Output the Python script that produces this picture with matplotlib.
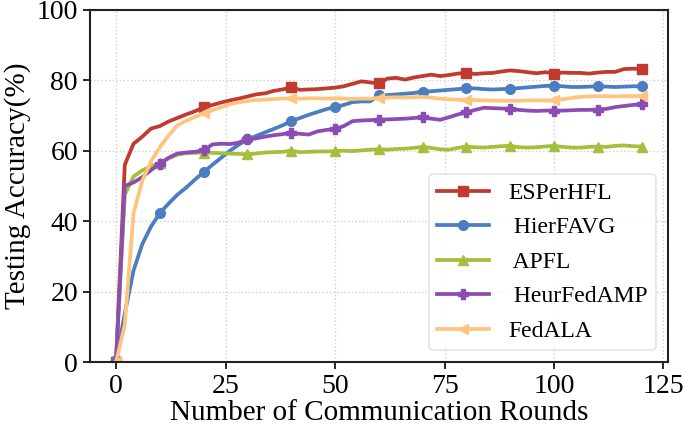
import numpy as np
import matplotlib
matplotlib.use("Agg")
import matplotlib.pyplot as plt

plt.rcParams["font.family"] = ["Liberation Serif", "DejaVu Serif"]

rounds = list(range(0, 121, 2))

esperhfl = [0, 56, 62, 64, 66.3, 67, 68.3, 69.3, 70.3, 71.2,
            72.3, 73, 73.7, 74.3, 74.8, 75.4, 76, 76.3, 77, 77.4,
            78, 77.3, 77.4, 77.5, 77.7, 77.9, 78.3, 79, 79.7, 79.4,
            79.1, 80.5, 80.7, 80.2, 80.8, 81.2, 81.6, 81.2, 81.5, 81.9,
            82.1, 81.8, 82, 82.1, 82.5, 82.8, 82.6, 82.3, 82, 82.3,
            81.9, 82.2, 82.1, 82.1, 81.9, 82.2, 82.4, 82.4, 83.2, 83.3,
            83.2]
hierfavg = [0.5, 13.8, 26, 33.5, 38.5, 42.3, 45, 47.5, 49.5, 51.8,
            53.9, 56, 58, 60, 61.7, 63.2, 64.2, 65.2, 66.2, 67.2,
            68.4, 69.3, 70.2, 71, 71.8, 72.4, 73, 73.8, 74, 74,
            75.7, 75.8, 76, 76.2, 76.4, 76.8, 76.9, 77.1, 77.3, 77.5,
            77.7, 77.7, 77.5, 77.4, 77.5, 77.6, 77.8, 78, 78.2, 78.4,
            78.5, 78.3, 78.1, 78.1, 78.2, 78.3, 78.2, 78.1, 78.2, 78.3,
            78.3]
apfl = [0, 47.5, 52.7, 54.4, 55.6, 56.5, 57.8, 58.9, 59.3, 59.4,
        59.5, 59.4, 59.3, 59.2, 59.1, 59.0, 59.2, 59.5, 59.6, 59.7,
        60.0, 59.6, 59.7, 59.8, 59.8, 59.9, 60, 59.9, 60.1, 60.3,
        60.4, 60.3, 60.5, 60.6, 60.8, 61.1, 60.8, 60.4, 60.3, 60.8,
        61.2, 61, 60.9, 61.1, 61.3, 61.4, 61, 60.9, 61, 61.2,
        61.4, 61.1, 60.9, 60.9, 61.1, 61.2, 61.1, 61.4, 61.5, 61.3,
        61.2]
heurfedamp = [0, 50, 51, 52.5, 54.5, 56.3, 58, 59.2, 59.5, 59.7,
              60.1, 61.8, 62, 61.9, 62.3, 63.3, 63.5, 64, 64.4, 64.7,
              65.1, 64.8, 64.6, 65.5, 65.9, 66.2, 67, 68.4, 68.6, 68.7,
              68.8, 68.9, 69.0, 69.1, 69.3, 69.5, 69.1, 68.8, 69.5, 70.3,
              70.9, 71.6, 72.2, 72.1, 72, 71.9, 71.6, 71.4, 71.3, 71.4,
              71.4, 71.4, 71.5, 71.6, 71.6, 71.7, 71.9, 72.4, 72.7, 73,
              73.2]
fedala = [0, 10.5, 42.3, 51.5, 57, 61, 64.3, 67.2, 68.5, 69.6,
          70.6, 71.5, 72.4, 73.2, 73.8, 74.1, 74.4, 74.5, 74.7, 74.8,
          74.9, 74.8, 74.9, 74.9, 74.8, 74.9, 74.8, 74.7, 74.8, 74.8,
          75, 75.1, 75.2, 75.1, 75.2, 75.3, 75.1, 74.8, 74.6, 74.5,
          74.5, 74.4, 74.3, 74.2, 74.2, 74.2, 74.2, 74.3, 74.3, 74.3,
          74.3, 74.6, 75, 75.3, 75.4, 75.5, 75.5, 75.4, 75.5, 75.5,
          75.6]

series = [
    ("ESPerHFL", esperhfl, "#C13A30", "s", 10),
    (" HierFAVG", hierfavg, "#4A7EC0", "o", 5),
    (" APFL", apfl, "#A3BF3C", "^", 5),
    (" HeurFedAMP", heurfedamp, "#8C4CB3", "P", 5),
    ("FedALA", fedala, "#FFC47E", "<", 10),
]

fig = plt.figure(figsize=(6.85, 4.29), dpi=100)
ax = fig.add_axes([0.131, 0.156, 0.844, 0.821])

for label, vals, color, marker, every in series:
    ax.plot(rounds, vals, color=color, marker=marker, markevery=every,
            lw=2.7, markersize=7, label=label)

ax.set_xlim(-6, 126)
ax.set_ylim(0, 100)
ax.set_xticks([0, 25, 50, 75, 100, 125])
ax.set_yticks([0, 20, 40, 60, 80, 100])
ax.grid(True, linestyle=":", color="#d0d0d0", lw=1)
ax.tick_params(labelsize=20, direction="out", length=5, width=1.2)
for sp in ax.spines.values():
    sp.set_linewidth(1.5)
    sp.set_color("#222222")

ax.set_xlabel("Number of Communication Rounds", fontsize=21, labelpad=1)
ax.set_ylabel("Testing Accuracy(%)", fontsize=21, labelpad=4)

leg = ax.legend(loc="lower right", fontsize=17, handlelength=2.2,
                borderpad=0.35, labelspacing=0.55, handletextpad=0.8,
                borderaxespad=0.5, frameon=True)
leg.get_frame().set_edgecolor("#dddddd")
leg.get_frame().set_linewidth(1.2)

fig.savefig("out.png", dpi=100)
